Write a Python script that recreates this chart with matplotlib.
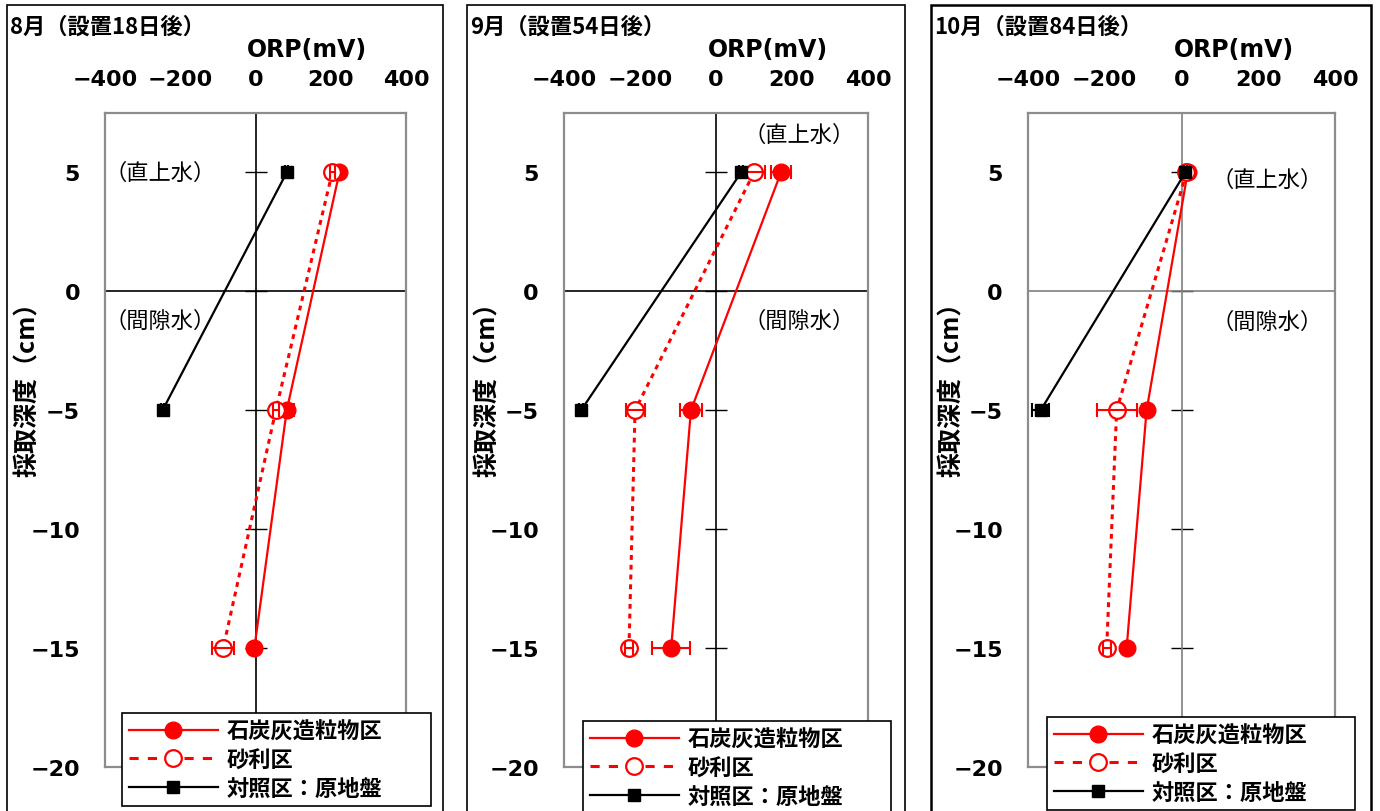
import matplotlib
matplotlib.use("Agg")
import matplotlib.pyplot as plt
from matplotlib.patches import Rectangle
from matplotlib.lines import Line2D

plt.rcParams['font.family'] = ['Noto Sans CJK JP', 'DejaVu Sans']

# depths (cm) of the sampling points
depth = [5, -5, -15]
ctrl_depth = [5, -5]

months = ['8月（設置18日後）', '9月（設置54日後）', '10月（設置84日後）']

# ORP (mV) per treatment, one list per month
coal = [[223, 83, -3], [171, -66, -118], [16, -91, -143]]
coal_err = [[8, 18, 8], [26, 30, 50], [8, 12, 8]]
gravel = [[204, 54, -86], [100, -213, -229], [13, -169, -195]]
gravel_err = [[6, 8, 30], [28, 25, 10], [8, 52, 10]]
ctrl = [[83, -247], [66, -355], [10, -367]]
ctrl_err = [[4, 4], [5, 5], [4, 22]]

labels = ['石炭灰造粒物区', '砂利区', '対照区：原地盤']
x_ticks = [-400, -200, 0, 200, 400]
y_ticks = [-20, -15, -10, -5, 0, 5]

# note positions (x, y) in data units
upper_note = [(-400, 5), (72, 6.6), (78, 4.7)]
lower_note = [(-400, -1.2), (72, -1.2), (78, -1.25)]

W, H = 1380, 812
fig = plt.figure(figsize=(13.8, 8.12), dpi=100)

ax_l = [105, 564, 1028]
ax_r = [406, 868, 1335]
ax_top, ax_bot = 114, 768
frames = [(7, 443), (467, 905), (931, 1371)]
legend_box = [(122, 714, 309), (583, 722, 308), (1047, 718, 308)]

num_font = dict(family='DejaVu Sans', weight='bold', size=16)
gravel_ls = (0, (1.6, 1.6))


def minus(v):
    return str(v).replace('-', '\u2212')


for i in range(3):
    ax = fig.add_axes([ax_l[i] / W, 1 - ax_bot / H,
                       (ax_r[i] - ax_l[i]) / W, (ax_bot - ax_top) / H])
    ax.set_xlim(-400, 400)
    ax.set_ylim(-20, 7.5)
    for sp in ax.spines.values():
        sp.set_color('#8c8c8c')
        sp.set_linewidth(1.6)

    axis_col = '#7f7f7f' if i == 2 else 'black'
    ax.axhline(0, color=axis_col, lw=1.2, zorder=1)
    ax.axvline(0, color=axis_col, lw=1.2, zorder=1)

    ax.xaxis.tick_top()
    ax.set_xticks(x_ticks)
    ax.set_xticklabels([minus(v) for v in x_ticks], fontdict=num_font)
    ax.tick_params(axis='x', length=0, pad=17)
    ax.set_yticks(y_ticks)
    ax.set_yticklabels([minus(v) for v in y_ticks], fontdict=num_font)
    ax.tick_params(axis='y', length=0, pad=18)

    # crossing tick marks on the vertical axis at x=0
    sec = ax.secondary_yaxis(0.5)
    sec.set_yticks(y_ticks)
    sec.tick_params(axis='y', direction='inout', length=16, width=1,
                    labelleft=False, labelright=False, color='black')
    for sp in sec.spines.values():
        sp.set_visible(False)

    h1, = ax.plot(coal[i], depth, color='red', lw=1.6, marker='o', ms=12,
                  mfc='red', mec='red', zorder=3)
    ax.errorbar(coal[i], depth, xerr=coal_err[i], fmt='none', ecolor='red',
                elinewidth=1.5, capsize=5, capthick=1.5, zorder=3)
    h2, = ax.plot(gravel[i], depth, color='red', lw=2.2, ls=gravel_ls, marker='o',
                  ms=12, mfc='white', mec='red', mew=1.6, zorder=4)
    ax.errorbar(gravel[i], depth, xerr=gravel_err[i], fmt='none', ecolor='red',
                elinewidth=1.5, capsize=5, capthick=1.5, zorder=4)
    h3, = ax.plot(ctrl[i], ctrl_depth, color='black', lw=1.6, marker='s', ms=8.5,
                  mfc='black', mec='black', zorder=5)
    ax.errorbar(ctrl[i], ctrl_depth, xerr=ctrl_err[i], fmt='none', ecolor='black',
                elinewidth=1.5, capsize=5, capthick=1.5, zorder=5)

    ax.text(*upper_note[i], '（直上水）', fontsize=16, va='center', ha='left')
    ax.text(*lower_note[i], '（間隙水）', fontsize=16, va='center', ha='left')

    ax.text(0.67, 1.098, 'ORP(mV)', transform=ax.transAxes, ha='center', va='center',
            family='DejaVu Sans', weight='bold', size=17)

    fx0, fx1 = frames[i]
    fig.text((fx0 + 21) / W, 1 - 383 / H, '採取深度（cm）', rotation=90,
             fontsize=18, fontweight='bold', ha='center', va='center')
    fig.add_artist(Rectangle((fx0 / W, -0.05), (fx1 - fx0) / W, 1.05 - 6 / H,
                             transform=fig.transFigure, fill=False, ec='black',
                             lw=1.8 if i == 2 else 1.2))
    fig.text((fx0 + 3) / W, 1 - 27 / H, months[i], fontsize=16, fontweight='bold',
             ha='left', va='center')

    # legend (line in the middle of each handle with marker)
    handles = [
        Line2D([], [], color='red', lw=1.6, marker='o', ms=12, mfc='red', mec='red'),
        Line2D([], [], color='red', lw=2.2, ls=(0, (3, 3)), marker='o', ms=12,
               mfc='white', mec='red', mew=1.6),
        Line2D([], [], color='black', lw=1.6, marker='s', ms=8.5, mfc='black', mec='black'),
    ]
    lx, ly, lw_ = legend_box[i]
    leg = fig.legend(handles, labels, loc='upper left',
                     bbox_to_anchor=(lx / W, 0, lw_ / W, 1 - ly / H),
                     mode='expand', borderaxespad=0, numpoints=1,
                     handlelength=4.0, handletextpad=0.4, labelspacing=0.25,
                     borderpad=0.3, fancybox=False, framealpha=1,
                     edgecolor='black', prop=dict(size=16, weight='bold'))
    leg.get_frame().set_linewidth(1.2)

fig.savefig('out.png', dpi=100)
